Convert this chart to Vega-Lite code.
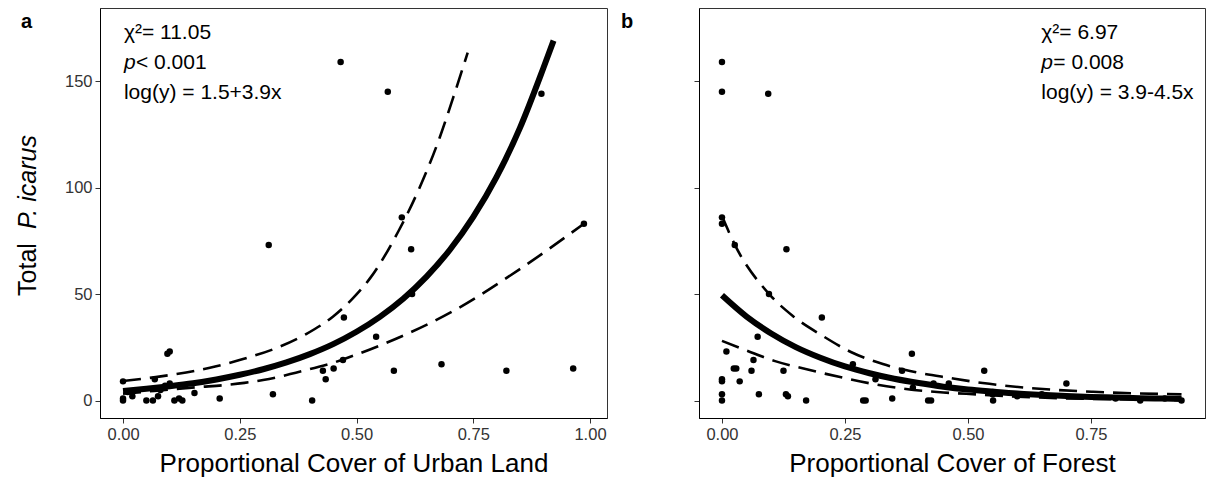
{
  "$schema": "https://vega.github.io/schema/vega-lite/v6.json",
  "padding": {"left": 15, "top": 7, "right": 4, "bottom": 2},
  "bounds": "flush",
  "spacing": 92,
  "config": {
    "font": "Liberation Sans",
    "view": {"stroke": "#333333", "strokeWidth": 1},
    "axis": {"grid": false, "domainColor": "#000000", "domainWidth": 1, "tickColor": "#333333", "tickSize": 5, "labelColor": "#333333", "labelFontSize": 16.5, "labelPadding": 3, "titleFontSize": 26, "titleFontWeight": "normal", "titleColor": "#000000"}
  },
  "datasets": {
    "urbanPts": [
      {"x": 0.0, "y": 9}, {"x": 0.0, "y": 0}, {"x": 0.0, "y": 1}, {"x": 0.01, "y": 4}, {"x": 0.02, "y": 2},
      {"x": 0.05, "y": 0}, {"x": 0.064, "y": 0}, {"x": 0.068, "y": 10}, {"x": 0.075, "y": 2}, {"x": 0.08, "y": 5},
      {"x": 0.09, "y": 7}, {"x": 0.095, "y": 22}, {"x": 0.1, "y": 23}, {"x": 0.1, "y": 8}, {"x": 0.11, "y": 0},
      {"x": 0.127, "y": 0}, {"x": 0.12, "y": 1}, {"x": 0.153, "y": 3.5}, {"x": 0.207, "y": 1}, {"x": 0.312, "y": 73},
      {"x": 0.321, "y": 3}, {"x": 0.405, "y": 0}, {"x": 0.428, "y": 14}, {"x": 0.434, "y": 10}, {"x": 0.451, "y": 15},
      {"x": 0.466, "y": 159}, {"x": 0.471, "y": 19}, {"x": 0.473, "y": 39}, {"x": 0.542, "y": 30}, {"x": 0.567, "y": 145},
      {"x": 0.58, "y": 14}, {"x": 0.597, "y": 86}, {"x": 0.617, "y": 71}, {"x": 0.619, "y": 50}, {"x": 0.682, "y": 17},
      {"x": 0.821, "y": 14}, {"x": 0.896, "y": 144}, {"x": 0.964, "y": 15}, {"x": 0.987, "y": 83}
    ],
    "forestPts": [
      {"x": 0.0, "y": 159}, {"x": 0.0, "y": 145}, {"x": 0.094, "y": 144}, {"x": 0.0, "y": 86}, {"x": 0.0, "y": 83},
      {"x": 0.026, "y": 73}, {"x": 0.131, "y": 71}, {"x": 0.0955, "y": 50}, {"x": 0.203, "y": 39}, {"x": 0.0725, "y": 30},
      {"x": 0.009, "y": 23}, {"x": 0.386, "y": 22}, {"x": 0.064, "y": 19}, {"x": 0.024, "y": 15}, {"x": 0.029, "y": 15},
      {"x": 0.06, "y": 14}, {"x": 0.125, "y": 14}, {"x": 0.533, "y": 14}, {"x": 0.0, "y": 9}, {"x": 0.0, "y": 10},
      {"x": 0.036, "y": 9}, {"x": 0.266, "y": 17}, {"x": 0.312, "y": 10}, {"x": 0.366, "y": 14}, {"x": 0.43, "y": 8},
      {"x": 0.461, "y": 8}, {"x": 0.7, "y": 8}, {"x": 0.0, "y": 3}, {"x": 0.0, "y": 0}, {"x": 0.075, "y": 3},
      {"x": 0.13, "y": 3}, {"x": 0.134, "y": 2}, {"x": 0.171, "y": 0}, {"x": 0.287, "y": 0}, {"x": 0.292, "y": 0},
      {"x": 0.346, "y": 1}, {"x": 0.419, "y": 0}, {"x": 0.425, "y": 0}, {"x": 0.551, "y": 0}, {"x": 0.55, "y": 3},
      {"x": 0.388, "y": 6}, {"x": 0.934, "y": 0}, {"x": 0.6, "y": 2}, {"x": 0.65, "y": 3}, {"x": 0.8, "y": 1},
      {"x": 0.85, "y": 0}, {"x": 0.9, "y": 1}
    ],
    "urbanCurves": [
      {"series": "fit", "x": 0.0, "y": 4.5}, {"series": "fit", "x": 0.05, "y": 5.5}, {"series": "fit", "x": 0.1, "y": 6.7},
      {"series": "fit", "x": 0.15, "y": 8.1}, {"series": "fit", "x": 0.2, "y": 9.9}, {"series": "fit", "x": 0.25, "y": 12.1},
      {"series": "fit", "x": 0.3, "y": 14.7}, {"series": "fit", "x": 0.35, "y": 17.9}, {"series": "fit", "x": 0.4, "y": 21.8},
      {"series": "fit", "x": 0.45, "y": 26.5}, {"series": "fit", "x": 0.5, "y": 32.3}, {"series": "fit", "x": 0.55, "y": 39.3},
      {"series": "fit", "x": 0.6, "y": 47.8}, {"series": "fit", "x": 0.65, "y": 58.2}, {"series": "fit", "x": 0.7, "y": 70.8},
      {"series": "fit", "x": 0.75, "y": 86.2}, {"series": "fit", "x": 0.8, "y": 105}, {"series": "fit", "x": 0.85, "y": 128},
      {"series": "fit", "x": 0.9, "y": 156}, {"series": "fit", "x": 0.922, "y": 169},
      {"series": "upper", "x": 0.0, "y": 9.2}, {"series": "upper", "x": 0.07, "y": 11}, {"series": "upper", "x": 0.113, "y": 12.4},
      {"series": "upper", "x": 0.186, "y": 15.4}, {"series": "upper", "x": 0.257, "y": 19.5}, {"series": "upper", "x": 0.328, "y": 24.6},
      {"series": "upper", "x": 0.392, "y": 31.2}, {"series": "upper", "x": 0.45, "y": 39.5}, {"series": "upper", "x": 0.49, "y": 47.5},
      {"series": "upper", "x": 0.53, "y": 57.7}, {"series": "upper", "x": 0.59, "y": 79.6}, {"series": "upper", "x": 0.635, "y": 99.9},
      {"series": "upper", "x": 0.678, "y": 123.4}, {"series": "upper", "x": 0.707, "y": 142.2}, {"series": "upper", "x": 0.738, "y": 163.3},
      {"series": "lower", "x": 0.0, "y": 3.2}, {"series": "lower", "x": 0.05, "y": 4.2}, {"series": "lower", "x": 0.1, "y": 5.2},
      {"series": "lower", "x": 0.16, "y": 6.3}, {"series": "lower", "x": 0.22, "y": 7.3}, {"series": "lower", "x": 0.26, "y": 8.3},
      {"series": "lower", "x": 0.3, "y": 9.6}, {"series": "lower", "x": 0.336, "y": 11.2}, {"series": "lower", "x": 0.37, "y": 13.1},
      {"series": "lower", "x": 0.41, "y": 15.3}, {"series": "lower", "x": 0.443, "y": 17.2}, {"series": "lower", "x": 0.471, "y": 19.3},
      {"series": "lower", "x": 0.564, "y": 27.1}, {"series": "lower", "x": 0.707, "y": 42}, {"series": "lower", "x": 0.849, "y": 61.6},
      {"series": "lower", "x": 0.99, "y": 83.5}
    ],
    "forestCurves": [
      {"series": "fit", "x": 0.0, "y": 49.4}, {"series": "fit", "x": 0.05, "y": 39.4}, {"series": "fit", "x": 0.1, "y": 31.5},
      {"series": "fit", "x": 0.15, "y": 25.1}, {"series": "fit", "x": 0.2, "y": 20.1}, {"series": "fit", "x": 0.25, "y": 16.0},
      {"series": "fit", "x": 0.3, "y": 12.8}, {"series": "fit", "x": 0.35, "y": 10.2}, {"series": "fit", "x": 0.4, "y": 8.2},
      {"series": "fit", "x": 0.45, "y": 6.5}, {"series": "fit", "x": 0.5, "y": 5.2}, {"series": "fit", "x": 0.55, "y": 4.2},
      {"series": "fit", "x": 0.6, "y": 3.3}, {"series": "fit", "x": 0.65, "y": 2.7}, {"series": "fit", "x": 0.7, "y": 2.1},
      {"series": "fit", "x": 0.75, "y": 1.7}, {"series": "fit", "x": 0.8, "y": 1.4}, {"series": "fit", "x": 0.85, "y": 1.1},
      {"series": "fit", "x": 0.9, "y": 0.9}, {"series": "fit", "x": 0.934, "y": 0.7},
      {"series": "upper", "x": 0.0, "y": 86.6}, {"series": "upper", "x": 0.026, "y": 73.2}, {"series": "upper", "x": 0.0955, "y": 50.1},
      {"series": "upper", "x": 0.144, "y": 39.7}, {"series": "upper", "x": 0.205, "y": 30.3}, {"series": "upper", "x": 0.262, "y": 22.8},
      {"series": "upper", "x": 0.327, "y": 17.1}, {"series": "upper", "x": 0.392, "y": 13.4}, {"series": "upper", "x": 0.463, "y": 10.6},
      {"series": "upper", "x": 0.53, "y": 8.2}, {"series": "upper", "x": 0.619, "y": 6.0}, {"series": "upper", "x": 0.754, "y": 4.1},
      {"series": "upper", "x": 0.934, "y": 2.9},
      {"series": "lower", "x": 0.0, "y": 28}, {"series": "lower", "x": 0.05, "y": 23.5}, {"series": "lower", "x": 0.108, "y": 18.5},
      {"series": "lower", "x": 0.17, "y": 14.8}, {"series": "lower", "x": 0.24, "y": 11}, {"series": "lower", "x": 0.307, "y": 7.8},
      {"series": "lower", "x": 0.374, "y": 5.4}, {"series": "lower", "x": 0.45, "y": 3.8}, {"series": "lower", "x": 0.517, "y": 2.9},
      {"series": "lower", "x": 0.6, "y": 1.8}, {"series": "lower", "x": 0.686, "y": 1.1}, {"series": "lower", "x": 0.8, "y": 0.6},
      {"series": "lower", "x": 0.934, "y": 0.3}
    ]
  },
  "hconcat": [
    {
      "width": 507,
      "height": 410,
      "layer": [
        {
          "data": {"name": "urbanCurves"},
          "transform": [{"filter": "datum.series != 'fit'"}],
          "mark": {"type": "line", "color": "#000000", "strokeWidth": 2.6, "strokeDash": [18, 9], "interpolate": "monotone"},
          "encoding": {
            "x": {"field": "x", "type": "quantitative", "scale": {"domain": [-0.0493, 1.0364], "nice": false, "zero": false},
                  "axis": {"values": [0, 0.25, 0.5, 0.75, 1], "format": ".2f", "title": "Proportional Cover of Urban Land", "titlePadding": 8}},
            "y": {"field": "y", "type": "quantitative", "scale": {"domain": [-8.2, 184.3], "nice": false, "zero": false},
                  "axis": {"values": [0, 50, 100, 150], "title": null}},
            "detail": {"field": "series"}
          }
        },
        {
          "data": {"name": "urbanCurves"},
          "transform": [{"filter": "datum.series == 'fit'"}],
          "mark": {"type": "line", "color": "#000000", "strokeWidth": 6, "interpolate": "monotone"},
          "encoding": {
            "x": {"field": "x", "type": "quantitative", "scale": {"domain": [-0.0493, 1.0364], "nice": false, "zero": false},
                  "axis": {"values": [0, 0.25, 0.5, 0.75, 1], "format": ".2f", "title": "Proportional Cover of Urban Land", "titlePadding": 8}},
            "y": {"field": "y", "type": "quantitative", "scale": {"domain": [-8.2, 184.3], "nice": false, "zero": false},
                  "axis": {"values": [0, 50, 100, 150], "title": null}}
          }
        },
        {
          "data": {"name": "urbanPts"},
          "mark": {"type": "circle", "color": "#000000", "opacity": 1, "size": 42},
          "encoding": {
            "x": {"field": "x", "type": "quantitative", "scale": {"domain": [-0.0493, 1.0364], "nice": false, "zero": false},
                  "axis": {"values": [0, 0.25, 0.5, 0.75, 1], "format": ".2f", "title": "Proportional Cover of Urban Land", "titlePadding": 8}},
            "y": {"field": "y", "type": "quantitative", "scale": {"domain": [-8.2, 184.3], "nice": false, "zero": false},
                  "axis": {"values": [0, 50, 100, 150], "title": null}}
          }
        },
        {
          "data": {"values": [{"label": "χ²= 11.05"}]},
          "mark": {"type": "text", "align": "left", "baseline": "alphabetic", "fontSize": 21, "color": "#000000"},
          "encoding": {
            "text": {"field": "label"},
            "x": {"datum": 0.002, "type": "quantitative", "scale": {"domain": [-0.0493, 1.0364], "nice": false, "zero": false},
                  "axis": {"values": [0, 0.25, 0.5, 0.75, 1], "format": ".2f", "title": "Proportional Cover of Urban Land", "titlePadding": 8}},
            "y": {"datum": 169.7, "type": "quantitative", "scale": {"domain": [-8.2, 184.3], "nice": false, "zero": false},
                  "axis": {"values": [0, 50, 100, 150], "title": null}}
          }
        },
        {
          "data": {"values": [{"label": "p"}]},
          "mark": {"type": "text", "align": "left", "baseline": "alphabetic", "fontSize": 21, "fontStyle": "italic", "color": "#000000"},
          "encoding": {
            "text": {"field": "label"},
            "x": {"datum": 0.002, "type": "quantitative", "scale": {"domain": [-0.0493, 1.0364], "nice": false, "zero": false},
                  "axis": {"values": [0, 0.25, 0.5, 0.75, 1], "format": ".2f", "title": "Proportional Cover of Urban Land", "titlePadding": 8}},
            "y": {"datum": 155.6, "type": "quantitative", "scale": {"domain": [-8.2, 184.3], "nice": false, "zero": false},
                  "axis": {"values": [0, 50, 100, 150], "title": null}}
          }
        },
        {
          "data": {"values": [{"label": "< 0.001"}]},
          "mark": {"type": "text", "align": "left", "baseline": "alphabetic", "fontSize": 21, "dx": 12, "color": "#000000"},
          "encoding": {
            "text": {"field": "label"},
            "x": {"datum": 0.002, "type": "quantitative", "scale": {"domain": [-0.0493, 1.0364], "nice": false, "zero": false},
                  "axis": {"values": [0, 0.25, 0.5, 0.75, 1], "format": ".2f", "title": "Proportional Cover of Urban Land", "titlePadding": 8}},
            "y": {"datum": 155.6, "type": "quantitative", "scale": {"domain": [-8.2, 184.3], "nice": false, "zero": false},
                  "axis": {"values": [0, 50, 100, 150], "title": null}}
          }
        },
        {
          "data": {"values": [{"label": "log(y) = 1.5+3.9x"}]},
          "mark": {"type": "text", "align": "left", "baseline": "alphabetic", "fontSize": 21, "color": "#000000"},
          "encoding": {
            "text": {"field": "label"},
            "x": {"datum": 0.002, "type": "quantitative", "scale": {"domain": [-0.0493, 1.0364], "nice": false, "zero": false},
                  "axis": {"values": [0, 0.25, 0.5, 0.75, 1], "format": ".2f", "title": "Proportional Cover of Urban Land", "titlePadding": 8}},
            "y": {"datum": 141.5, "type": "quantitative", "scale": {"domain": [-8.2, 184.3], "nice": false, "zero": false},
                  "axis": {"values": [0, 50, 100, 150], "title": null}}
          }
        },
        {
          "data": {"values": [{"label": "a"}]},
          "mark": {"type": "text", "align": "left", "baseline": "alphabetic", "fontSize": 20, "fontWeight": "bold", "color": "#000000"},
          "encoding": {
            "text": {"field": "label"},
            "x": {"datum": -0.2184, "type": "quantitative", "scale": {"domain": [-0.0493, 1.0364], "nice": false, "zero": false},
                  "axis": {"values": [0, 0.25, 0.5, 0.75, 1], "format": ".2f", "title": "Proportional Cover of Urban Land", "titlePadding": 8}},
            "y": {"datum": 174.9, "type": "quantitative", "scale": {"domain": [-8.2, 184.3], "nice": false, "zero": false},
                  "axis": {"values": [0, 50, 100, 150], "title": null}}
          }
        },
        {
          "data": {"values": [{"label": "Total"}]},
          "mark": {"type": "text", "align": "left", "baseline": "alphabetic", "angle": 270, "fontSize": 25, "color": "#000000"},
          "encoding": {
            "text": {"field": "label"},
            "x": {"datum": -0.186, "type": "quantitative", "scale": {"domain": [-0.0493, 1.0364], "nice": false, "zero": false},
                  "axis": {"values": [0, 0.25, 0.5, 0.75, 1], "format": ".2f", "title": "Proportional Cover of Urban Land", "titlePadding": 8}},
            "y": {"datum": 49.1, "type": "quantitative", "scale": {"domain": [-8.2, 184.3], "nice": false, "zero": false},
                  "axis": {"values": [0, 50, 100, 150], "title": null}}
          }
        },
        {
          "data": {"values": [{"label": "P. icarus"}]},
          "mark": {"type": "text", "align": "left", "baseline": "alphabetic", "angle": 270, "fontSize": 25, "fontStyle": "italic", "color": "#000000"},
          "encoding": {
            "text": {"field": "label"},
            "x": {"datum": -0.186, "type": "quantitative", "scale": {"domain": [-0.0493, 1.0364], "nice": false, "zero": false},
                  "axis": {"values": [0, 0.25, 0.5, 0.75, 1], "format": ".2f", "title": "Proportional Cover of Urban Land", "titlePadding": 8}},
            "y": {"datum": 80.5, "type": "quantitative", "scale": {"domain": [-8.2, 184.3], "nice": false, "zero": false},
                  "axis": {"values": [0, 50, 100, 150], "title": null}}
          }
        }
      ]
    },
    {
      "width": 506,
      "height": 410,
      "layer": [
        {
          "data": {"name": "forestCurves"},
          "transform": [{"filter": "datum.series != 'fit'"}],
          "mark": {"type": "line", "color": "#000000", "strokeWidth": 2.6, "strokeDash": [18, 9], "interpolate": "monotone"},
          "encoding": {
            "x": {"field": "x", "type": "quantitative", "scale": {"domain": [-0.0467, 0.9817], "nice": false, "zero": false},
                  "axis": {"values": [0, 0.25, 0.5, 0.75], "format": ".2f", "title": "Proportional Cover of Forest", "titlePadding": 8}},
            "y": {"field": "y", "type": "quantitative", "scale": {"domain": [-8.2, 184.3], "nice": false, "zero": false},
                  "axis": {"values": [0, 50, 100, 150], "labels": false, "title": null}},
            "detail": {"field": "series"}
          }
        },
        {
          "data": {"name": "forestCurves"},
          "transform": [{"filter": "datum.series == 'fit'"}],
          "mark": {"type": "line", "color": "#000000", "strokeWidth": 6, "interpolate": "monotone"},
          "encoding": {
            "x": {"field": "x", "type": "quantitative", "scale": {"domain": [-0.0467, 0.9817], "nice": false, "zero": false},
                  "axis": {"values": [0, 0.25, 0.5, 0.75], "format": ".2f", "title": "Proportional Cover of Forest", "titlePadding": 8}},
            "y": {"field": "y", "type": "quantitative", "scale": {"domain": [-8.2, 184.3], "nice": false, "zero": false},
                  "axis": {"values": [0, 50, 100, 150], "labels": false, "title": null}}
          }
        },
        {
          "data": {"name": "forestPts"},
          "mark": {"type": "circle", "color": "#000000", "opacity": 1, "size": 42},
          "encoding": {
            "x": {"field": "x", "type": "quantitative", "scale": {"domain": [-0.0467, 0.9817], "nice": false, "zero": false},
                  "axis": {"values": [0, 0.25, 0.5, 0.75], "format": ".2f", "title": "Proportional Cover of Forest", "titlePadding": 8}},
            "y": {"field": "y", "type": "quantitative", "scale": {"domain": [-8.2, 184.3], "nice": false, "zero": false},
                  "axis": {"values": [0, 50, 100, 150], "labels": false, "title": null}}
          }
        },
        {
          "data": {"values": [{"label": "χ²= 6.97"}]},
          "mark": {"type": "text", "align": "left", "baseline": "alphabetic", "fontSize": 21, "color": "#000000"},
          "encoding": {
            "text": {"field": "label"},
            "x": {"datum": 0.649, "type": "quantitative", "scale": {"domain": [-0.0467, 0.9817], "nice": false, "zero": false},
                  "axis": {"values": [0, 0.25, 0.5, 0.75], "format": ".2f", "title": "Proportional Cover of Forest", "titlePadding": 8}},
            "y": {"datum": 169.7, "type": "quantitative", "scale": {"domain": [-8.2, 184.3], "nice": false, "zero": false},
                  "axis": {"values": [0, 50, 100, 150], "labels": false, "title": null}}
          }
        },
        {
          "data": {"values": [{"label": "p"}]},
          "mark": {"type": "text", "align": "left", "baseline": "alphabetic", "fontSize": 21, "fontStyle": "italic", "color": "#000000"},
          "encoding": {
            "text": {"field": "label"},
            "x": {"datum": 0.649, "type": "quantitative", "scale": {"domain": [-0.0467, 0.9817], "nice": false, "zero": false},
                  "axis": {"values": [0, 0.25, 0.5, 0.75], "format": ".2f", "title": "Proportional Cover of Forest", "titlePadding": 8}},
            "y": {"datum": 155.6, "type": "quantitative", "scale": {"domain": [-8.2, 184.3], "nice": false, "zero": false},
                  "axis": {"values": [0, 50, 100, 150], "labels": false, "title": null}}
          }
        },
        {
          "data": {"values": [{"label": "= 0.008"}]},
          "mark": {"type": "text", "align": "left", "baseline": "alphabetic", "fontSize": 21, "dx": 12, "color": "#000000"},
          "encoding": {
            "text": {"field": "label"},
            "x": {"datum": 0.649, "type": "quantitative", "scale": {"domain": [-0.0467, 0.9817], "nice": false, "zero": false},
                  "axis": {"values": [0, 0.25, 0.5, 0.75], "format": ".2f", "title": "Proportional Cover of Forest", "titlePadding": 8}},
            "y": {"datum": 155.6, "type": "quantitative", "scale": {"domain": [-8.2, 184.3], "nice": false, "zero": false},
                  "axis": {"values": [0, 50, 100, 150], "labels": false, "title": null}}
          }
        },
        {
          "data": {"values": [{"label": "log(y) = 3.9-4.5x"}]},
          "mark": {"type": "text", "align": "left", "baseline": "alphabetic", "fontSize": 21, "color": "#000000"},
          "encoding": {
            "text": {"field": "label"},
            "x": {"datum": 0.649, "type": "quantitative", "scale": {"domain": [-0.0467, 0.9817], "nice": false, "zero": false},
                  "axis": {"values": [0, 0.25, 0.5, 0.75], "format": ".2f", "title": "Proportional Cover of Forest", "titlePadding": 8}},
            "y": {"datum": 141.5, "type": "quantitative", "scale": {"domain": [-8.2, 184.3], "nice": false, "zero": false},
                  "axis": {"values": [0, 50, 100, 150], "labels": false, "title": null}}
          }
        },
        {
          "data": {"values": [{"label": "b"}]},
          "mark": {"type": "text", "align": "left", "baseline": "alphabetic", "fontSize": 20, "fontWeight": "bold", "color": "#000000"},
          "encoding": {
            "text": {"field": "label"},
            "x": {"datum": -0.2053, "type": "quantitative", "scale": {"domain": [-0.0467, 0.9817], "nice": false, "zero": false},
                  "axis": {"values": [0, 0.25, 0.5, 0.75], "format": ".2f", "title": "Proportional Cover of Forest", "titlePadding": 8}},
            "y": {"datum": 174.9, "type": "quantitative", "scale": {"domain": [-8.2, 184.3], "nice": false, "zero": false},
                  "axis": {"values": [0, 50, 100, 150], "labels": false, "title": null}}
          }
        }
      ]
    }
  ]
}
